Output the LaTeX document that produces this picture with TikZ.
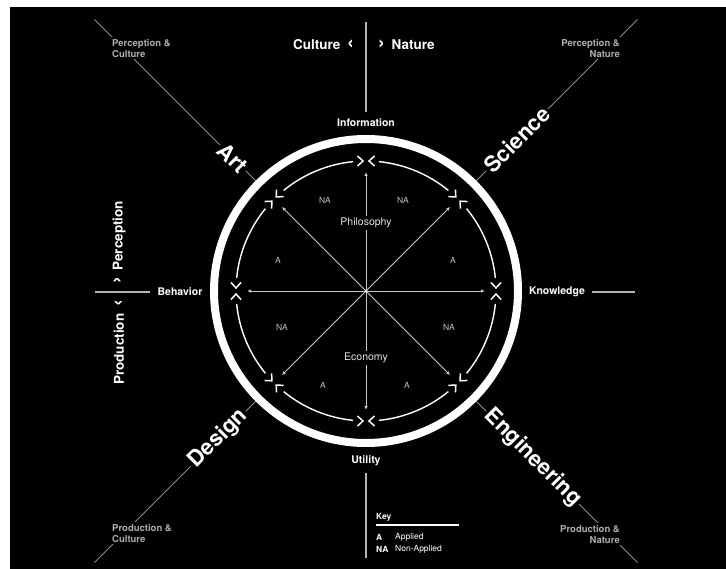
\documentclass[tikz,border=0pt]{standalone}
\usepackage{fontspec}
\setmainfont{TeX Gyre Heros}
\usepackage{tikz}
\usetikzlibrary{arrows.meta,positioning,calc}
\definecolor{lngray}{RGB}{140,140,140}
\definecolor{rlgray}{RGB}{180,180,180}
\definecolor{spgray}{RGB}{200,200,200}
\definecolor{cngray}{RGB}{175,175,175}
\definecolor{tggray}{RGB}{195,195,195}
\definecolor{softwhite}{RGB}{228,228,228}
\newcommand{\chl}{{\fontsize{20}{20}\selectfont ‹}}
\newcommand{\chr}{{\fontsize{20}{20}\selectfont ›}}
\tikzset{
  wlbl/.style={text=white, font=\fontsize{10.5}{12}\selectfont\bfseries, inner sep=2pt, fill=black},
  fieldlbl/.style={text=white, font=\fontsize{22}{24}\selectfont\bfseries, inner sep=2pt, fill=black},
  axlbl/.style={text=white, font=\fontsize{13.5}{15}\selectfont\bfseries, inner sep=1pt},
  cornerlbl/.style={text=cngray, font=\fontsize{9.5}{11}\selectfont\bfseries, align=left, inner sep=2pt, fill=black},
  inlbl/.style={text=softwhite, font=\fontsize{10.5}{12}\selectfont, fill=black, inner sep=2pt},
  sector/.style={text=tggray, font=\fontsize{8.5}{10}\selectfont},
  keytxt/.style={text=white, font=\fontsize{8.5}{10}\selectfont, inner sep=1pt},
  keyhd/.style={keytxt, font=\fontsize{8.5}{10}\selectfont\bfseries},
  diag/.style={draw=lngray, line width=0.9pt},
  rule/.style={draw=rlgray, line width=1.1pt},
  ring/.style={draw=white, line width=8pt},
  arcln/.style={draw=white, line width=1.4pt},
  chev/.style={draw=white, line width=1.5pt, line join=miter},
  spoke/.style={-{Latex[length=4pt,width=3.5pt]}, draw=spgray, line width=0.8pt}
}
\begin{document}
\begin{tikzpicture}[x=1pt, y=1pt]
  \useasboundingbox (0,0) rectangle (726,-569);
  \fill[white] (0,0) rectangle (726,-569);
  \fill[black] (10,-7) rectangle (726,-569);
  \coordinate (C) at (366,-291);

  % diagonals under the labels
  \foreach \a in {45,135,225,315}
    \draw[diag] (C) ++(\a:156) -- ++(\a:228);

  % ring, arcs and chevrons
  \draw[ring] (C) circle[radius=152];
  \foreach \a in {0,45,...,315} {
    \begin{scope}[shift={(C)}, rotate=\a]
      \draw[arcln] (5.7:130) arc[start angle=5.7, end angle=39.3, radius=130];
      \draw[chev] (125,-8.5) -- (130,-3) -- (135,-8.5);
      \draw[chev] (125,8.5) -- (130,3) -- (135,8.5);
    \end{scope}
  }

  % spokes
  \foreach \a in {0,45,...,315}
    \draw[spoke] (C) -- ++(\a:119);
  \fill[white] (C) circle[radius=1.3];

  \node[inlbl] (philo) at (366,-223) {Philosophy};
  \node[inlbl] (econ) at (366,-358) {Economy};
  \node[sector] (na1) at (325,-200) {NA};
  \node[sector] (na2) at (403,-200) {NA};
  \node[sector] (a1) at (278,-260) {A};
  \node[sector] (a2) at (453,-260) {A};
  \node[sector] (na3) at (282,-327) {NA};
  \node[sector] (na4) at (449,-327) {NA};
  \node[sector] (a3) at (323,-385) {A};
  \node[sector] (a4) at (407,-385) {A};

  % poles
  \node[wlbl] (info) at (366,-123) {Information};
  \node[wlbl] (util) at (366,-461) {Utility};
  \node[wlbl] (behav) at (180,-292) {Behavior};
  \node[wlbl] (know) at (557,-292) {Knowledge};
  \coordinate (topend) at (366,-22);
  \coordinate (botend) at (366,-558);
  \coordinate (lftend) at (95,-292);
  \coordinate (rgtend) at (635,-292);
  \draw[rule, shorten <=5pt] (info) -- (topend);
  \draw[rule, shorten <=5pt] (util) -- (botend);
  \draw[rule, shorten <=5pt] (behav) -- (lftend);
  \draw[rule, shorten <=5pt] (know) -- (rgtend);

  \node[axlbl, anchor=east] (cult) at (355,-45) {Culture\enspace\chl};
  \node[axlbl, anchor=west] (natu) at (377,-45) {\chr\enspace Nature};
  \node[axlbl, rotate=90, anchor=west] (perc) at (119,-285) {\chr\enspace Perception};
  \node[axlbl, rotate=90, anchor=east] (prod) at (119,-299) {Production\enspace\chl};

  % fields on the diagonals
  \node[fieldlbl, rotate=-45, anchor=east] (art) at ($(C)+(135:170)$) {Art};
  \node[fieldlbl, rotate=45, anchor=west] (sci) at ($(C)+(45:170)$) {Science};
  \node[fieldlbl, rotate=45, anchor=east] (des) at ($(C)+(225:170)$) {Design};
  \node[fieldlbl, rotate=-45, anchor=west] (eng) at ($(C)+(315:170)$) {Engineering};

  \node[cornerlbl, anchor=north west] (pcul) at (110,-37) {Perception \&\\Culture};
  \node[cornerlbl, anchor=north east, align=right] (pnat) at (622,-37) {Perception \&\\Nature};
  \node[cornerlbl, anchor=north west] (rcul) at (110,-522) {Production \&\\Culture};
  \node[cornerlbl, anchor=north east, align=right] (rnat) at (622,-523) {Production \&\\Nature};

  % key
  \node[keyhd, anchor=west] (key) at (375,-517) {Key};
  \coordinate (keyl) at (376,-525);
  \coordinate (keyr) at (459,-525);
  \draw[draw=white, line width=1.1pt] (keyl) -- (keyr);
  \node[keyhd, anchor=west] (ka) at (375,-537) {A};
  \node[keytxt, anchor=west] (kapp) at (394,-537) {Applied};
  \node[keyhd, anchor=west] (kna) at (375,-549) {NA};
  \node[keytxt, anchor=west] (knon) at (394,-549) {Non-Applied};
\end{tikzpicture}
\end{document}
